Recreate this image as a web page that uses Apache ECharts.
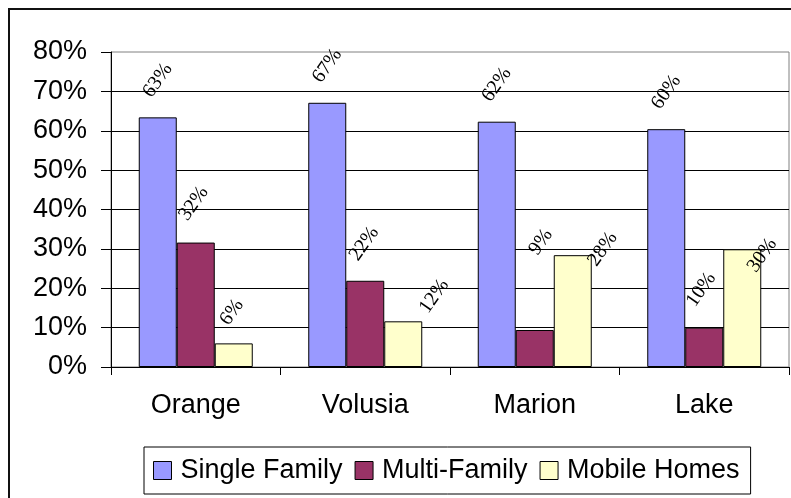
<!DOCTYPE html>
<html>
<head>
<meta charset="utf-8">
<script src="https://cdn.jsdelivr.net/npm/echarts@6/dist/echarts.min.js"></script>
<style>
  html, body { margin: 0; padding: 0; background: #fff; }
  #main { width: 791px; height: 498px; }
</style>
</head>
<body>
<div id="main"></div>
<script>
// counties on the x axis
var counties = ['Orange', 'Volusia', 'Marion', 'Lake'];
// share of housing type, percent
var singleFamily = [63.4, 67.1, 62.3, 60.4];
var multiFamily = [31.6, 21.9, 9.4, 10.0];
var mobileHomes = [6.0, 11.6, 28.4, 29.9];
var yTicks = [0, 10, 20, 30, 40, 50, 60, 70, 80];

// screen nudges for the rotated value labels (Excel moved some of them)
var nudgeSF = [[0, 0], [0, 0], [0, 0], [0, 0]];
var nudgeMF = [[-2, -2], [-1, 0], [6, -51], [-3, -1]];
var nudgeMH = [[-2, 6], [31, 12], [30, 31], [20, 43]];

var ROT = 55;

// label offset is applied in the rotated frame, so turn screen shift into it
function toLocal(s) {
    var r = ROT * Math.PI / 180;
    return [s[0] * Math.cos(r) - s[1] * Math.sin(r),
            s[0] * Math.sin(r) + s[1] * Math.cos(r)];
}

function makeData(values, nudges) {
    return values.map(function (v, i) {
        return { value: v, label: { offset: toLocal(nudges[i]) } };
    });
}

var barLabel = {
    show: true,
    position: 'top',
    distance: 37,
    rotate: ROT,
    align: 'center',
    verticalAlign: 'middle',
    fontFamily: 'Liberation Serif',
    fontSize: 20,
    color: '#000',
    formatter: function (p) { return Math.round(p.value) + '%'; }
};

function makeSeries(name, values, nudges, color) {
    return {
        name: name,
        type: 'bar',
        barWidth: 38,
        barGap: '0%',
        data: makeData(values, nudges),
        itemStyle: { color: color, borderColor: '#000', borderWidth: 1 },
        label: barLabel,
        emphasis: { disabled: true },
        animation: false
    };
}

var myChart = echarts.init(document.getElementById('main'));

var option = {
    backgroundColor: '#fff',
    animation: false,
    grid: {
        left: 111,
        right: 2,
        top: 52,
        bottom: 131,
        show: true,
        borderColor: '#808080',
        borderWidth: 1,
        backgroundColor: '#fff'
    },
    legend: {
        left: 144,
        top: 447,
        padding: [10, 11, 10, 9],
        itemGap: 12,
        itemWidth: 18,
        itemHeight: 18,
        icon: 'rect',
        borderColor: '#000',
        borderWidth: 1,
        itemStyle: { borderColor: '#000', borderWidth: 1 },
        textStyle: {
            fontFamily: 'Liberation Sans',
            fontSize: 27,
            color: '#000',
            padding: [0, 0, 0, 4]
        },
        selectedMode: false
    },
    xAxis: {
        type: 'category',
        data: counties,
        axisLine: { lineStyle: { color: '#000', width: 1 } },
        axisTick: { show: true, length: 8, lineStyle: { color: '#000' } },
        axisLabel: {
            margin: 25,
            fontFamily: 'Liberation Sans',
            fontSize: 27,
            color: '#000'
        }
    },
    yAxis: {
        type: 'value',
        min: yTicks[0],
        max: yTicks[yTicks.length - 1],
        interval: yTicks[1] - yTicks[0],
        axisLine: { show: true, lineStyle: { color: '#000', width: 1 } },
        axisTick: { show: true, length: 10, lineStyle: { color: '#000' } },
        axisLabel: {
            margin: 24,
            fontFamily: 'Liberation Sans',
            fontSize: 27,
            color: '#000',
            formatter: '{value}%'
        },
        splitLine: { show: true, showMaxLine: false, lineStyle: { color: '#000', width: 1 } }
    },
    graphic: [{
        type: 'rect',
        shape: { x: 9, y: 9, width: 800, height: 500 },
        style: { fill: 'none', stroke: '#111', lineWidth: 2 },
        silent: true
    }],
    series: [
        makeSeries('Single Family', singleFamily, nudgeSF, '#9999FF'),
        makeSeries('Multi-Family', multiFamily, nudgeMF, '#993366'),
        makeSeries('Mobile Homes', mobileHomes, nudgeMH, '#FFFFCC')
    ]
};

myChart.setOption(option);
</script>
</body>
</html>
